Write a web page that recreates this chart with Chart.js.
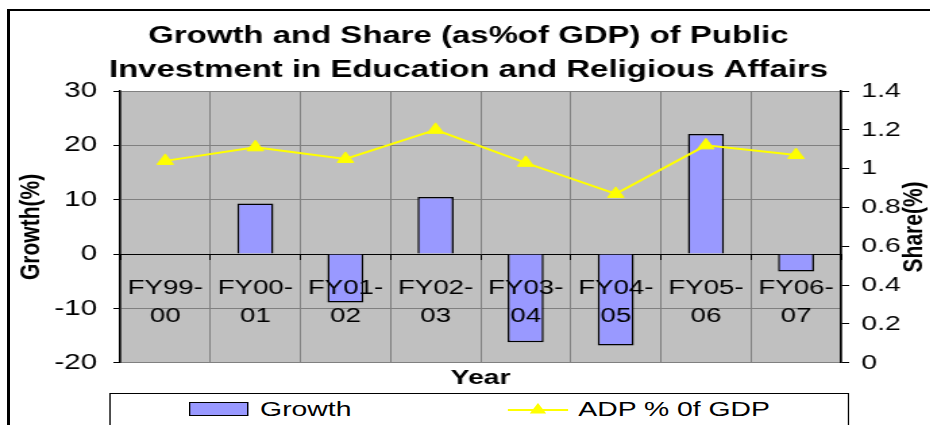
<!DOCTYPE html>
<html lang="en">
<head>
  <meta charset="UTF-8" />
  <meta name="viewport" content="width=device-width, initial-scale=1.0"/>
  <title>Growth and Share of Public Investment in Education and Religious Affairs</title>
  <script src="https://cdn.jsdelivr.net/npm/chart.js"></script>
  <style>
    body {
      margin: 0;
      background: #fff;
      font-family: 'Liberation Sans', Arial, sans-serif;
      overflow: hidden;
    }

    /* outer chart frame, runs off the right and bottom edge */
    .frame {
      position: absolute;
      left: 7px;
      top: 9px;
      width: 1000px;
      height: 600px;
      border-top: 2px solid #000;
      border-left: 3px solid #000;
    }

    /* the original picture is stretched sideways, so is this */
    .stretch {
      position: absolute;
      left: 0;
      top: 0;
      width: 689px;
      height: 425px;
      transform: scaleX(1.35);
      transform-origin: 0 0;
    }

    .chart-box {
      position: relative;
      width: 689px;
      height: 393px;
    }

    #legend {
      position: absolute;
      left: 81px;
      top: 393px;
      width: 548px;
      height: 60px;
      border: 1px solid #000;
      box-sizing: border-box;
      padding-top: 2px;
      display: flex;
      justify-content: center;
      align-items: flex-start;
      gap: 116px;
      background: #fff;
    }

    .legend-item {
      display: flex;
      align-items: center;
      font-size: 21px;
      line-height: 25px;
      color: #000;
      white-space: nowrap;
    }

    .legend-bar {
      width: 44px;
      height: 14px;
      border: 1px solid #000;
      box-sizing: border-box;
      margin-right: 9px;
    }

    .legend-line {
      margin-right: 7px;
    }
  </style>
</head>
<body>
  <div class="frame"></div>

  <div class="stretch">
    <div class="chart-box">
      <canvas id="chartGrowth"></canvas>
    </div>
    <div id="legend"></div>
  </div>

  <script>
    // data
    const years = [
      ["FY99-", "00"], ["FY00-", "01"], ["FY01-", "02"], ["FY02-", "03"],
      ["FY03-", "04"], ["FY04-", "05"], ["FY05-", "06"], ["FY06-", "07"]
    ];
    const growth = [null, 9.3, -8.9, 10.5, -16.2, -16.8, 22.1, -3.2];
    const adpShare = [1.04, 1.11, 1.05, 1.2, 1.03, 0.87, 1.12, 1.07];
    const growthTicks = [-20, -10, 0, 10, 20, 30];
    const shareTicks = [0, 0.2, 0.4, 0.6, 0.8, 1, 1.2, 1.4];

    const titleLines = [
      "Growth and Share (as%of GDP) of Public",
      "Investment in Education and Religious Affairs"
    ];

    Chart.defaults.font.family = "'Liberation Sans', Arial, sans-serif";
    Chart.defaults.color = "#000";

    // grey plot background
    const plotBackground = {
      id: "plotBackground",
      beforeDraw(chart) {
        const { ctx, chartArea: a } = chart;
        ctx.save();
        ctx.fillStyle = "#C0C0C0";
        ctx.fillRect(a.left, a.top, a.width, a.height);
        ctx.restore();
      }
    };

    // right axis title reads bottom to top like the left one
    const rightTitle = {
      id: "rightTitle",
      afterDraw(chart) {
        const { ctx, chartArea: a } = chart;
        const s = chart.scales.y1;
        ctx.save();
        ctx.translate(s.right - 12, (a.top + a.bottom) / 2);
        ctx.rotate(-Math.PI / 2);
        ctx.font = "bold 21px 'Liberation Sans', Arial, sans-serif";
        ctx.textAlign = "center";
        ctx.textBaseline = "middle";
        ctx.fillStyle = "#000";
        ctx.fillText("Share(%)", 0, 0);
        ctx.restore();
      }
    };

    const chart = new Chart(document.getElementById("chartGrowth"), {
      type: "bar",
      data: {
        labels: years,
        datasets: [
          {
            type: "bar",
            label: "Growth",
            data: growth,
            yAxisID: "y",
            backgroundColor: "#9999FF",
            borderColor: "#000",
            borderWidth: 1.5,
            categoryPercentage: 1,
            barPercentage: 0.4,
            order: 1
          },
          {
            type: "line",
            label: "ADP % 0f GDP",
            data: adpShare,
            yAxisID: "y1",
            borderColor: "#FFFF00",
            backgroundColor: "#FFFF00",
            borderWidth: 2,
            pointStyle: "triangle",
            pointRadius: 7,
            pointBorderWidth: 1,
            tension: 0,
            order: 0
          }
        ]
      },
      options: {
        responsive: true,
        maintainAspectRatio: false,
        animation: false,
        layout: { padding: { left: 5, right: 0, top: 0, bottom: 0 } },
        plugins: {
          legend: { display: false },
          tooltip: { enabled: false },
          title: {
            display: true,
            text: titleLines,
            color: "#000",
            font: { size: 24.4, weight: "bold", lineHeight: 34 / 24.4 },
            padding: { top: 19, bottom: 4 }
          }
        },
        scales: {
          x: {
            type: "category",
            position: { y: 0 },
            offset: true,
            grid: { color: "#808080", offset: true, tickColor: "#000", tickLength: 5 },
            border: { color: "#000", width: 1 },
            ticks: {
              color: "#000",
              font: { size: 20.5, lineHeight: 28 / 20.5 },
              padding: 15,
              maxRotation: 0,
              autoSkip: false,
              z: 1
            }
          },
          x2: {
            axis: "x",
            type: "category",
            position: "bottom",
            grid: { display: false, drawTicks: false },
            border: { display: false },
            ticks: { display: false },
            title: {
              display: true,
              text: "Year",
              color: "#000",
              font: { size: 21, weight: "bold" },
              padding: { top: 3, bottom: 2 }
            }
          },
          y: {
            position: "left",
            min: growthTicks[0],
            max: growthTicks[growthTicks.length - 1],
            ticks: {
              stepSize: growthTicks[1] - growthTicks[0],
              color: "#000",
              font: { size: 22 },
              padding: 12
            },
            grid: { color: "#808080", tickColor: "#000", tickLength: 5 },
            border: { color: "#000", width: 1.5 },
            title: {
              display: true,
              text: "Growth(%)",
              color: "#000",
              font: { size: 21, weight: "bold" },
              padding: { top: 6, bottom: 0 }
            },
            afterFit(scale) { scale.width = 84; }
          },
          y1: {
            position: "right",
            min: shareTicks[0],
            max: shareTicks[shareTicks.length - 1],
            ticks: {
              stepSize: shareTicks[1] - shareTicks[0],
              color: "#000",
              font: { size: 21 },
              padding: 9,
              callback: (v) => String(Number(v.toFixed(1)))
            },
            grid: { drawOnChartArea: false, tickColor: "#000", tickLength: 6 },
            border: { color: "#000", width: 1.5 },
            afterFit(scale) { scale.width = 66; }
          }
        }
      },
      plugins: [plotBackground, rightTitle]
    });

    // html legend from the datasets
    const legend = document.getElementById("legend");
    chart.data.datasets.forEach((ds) => {
      const item = document.createElement("div");
      item.className = "legend-item";
      if (ds.type === "bar") {
        const box = document.createElement("span");
        box.className = "legend-bar";
        box.style.background = ds.backgroundColor;
        item.appendChild(box);
      } else {
        const svgNS = "http://www.w3.org/2000/svg";
        const svg = document.createElementNS(svgNS, "svg");
        svg.setAttribute("width", "45");
        svg.setAttribute("height", "16");
        svg.setAttribute("class", "legend-line");
        svg.innerHTML =
          '<line x1="0" y1="9" x2="45" y2="9" stroke="' + ds.borderColor + '" stroke-width="2"/>' +
          '<polygon points="22.5,2 28.6,12.5 16.4,12.5" fill="' + ds.backgroundColor + '"/>';
        item.appendChild(svg);
      }
      const txt = document.createElement("span");
      txt.textContent = ds.label;
      item.appendChild(txt);
      legend.appendChild(item);
    });
  </script>
</body>
</html>
